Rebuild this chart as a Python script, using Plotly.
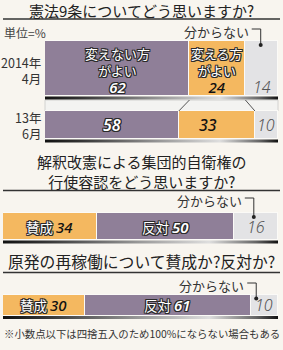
import plotly.graph_objects as go

# ---------------- data ----------------
q1_title = "憲法9条についてどう思いますか?"
q1_rows = ["2014年<br>4月", "13年<br>6月"]
q1_keep = [62, 58]      # 変えない方がよい
q1_change = [24, 33]    # 変える方がよい
q1_unknown = [14, 10]   # 分からない

q2_title = ["解釈改憲による集団的自衛権の", "行使容認をどう思いますか?"]
q2_for = [34]
q2_against = [50]
q2_unknown = [16]

q3_title = "原発の再稼働について賛成か?反対か?"
q3_for = [30]
q3_against = [61]
q3_unknown = [10]

unit_label = "単位=%"
unknown_label = "分からない"
footnote = "※小数点以下は四捨五入のため100%にならない場合もある"

# ---------------- style / layout ----------------
W, H = 283, 350
BG = "#f8f5ef"
PURPLE = "#8f7f98"
ORANGE = "#f4b860"
GRAY = "#e3e3e5"
DARK = "#222222"
JP = "Noto Sans CJK JP"
NUM = "Noto Sans"
OUTLINE = ", ".join(f"{dx}px {dy}px 0 #2a2a2a" for dx, dy in
                    [(1, 0), (-1, 0), (0, 1), (0, -1), (1, 1), (-1, -1), (1, -1), (-1, 1)])
NUM_DARK = "font-family:Noto Sans;font-style:italic;font-size:15px;color:#111;text-shadow:none;font-weight:500"
NUM_WHITE = "font-family:Noto Sans;font-style:italic;font-size:15px;font-weight:600"

# bar rows: (center y, height) in pixel units of the y axis
rows = {"b1": (68.5, 55), "b2": (125, 28), "b3": (226.5, 27), "b4": (305, 21)}
dom_q1 = [45 / W, 278 / W]
dom_q23 = [3 / W, 278 / W]

fig = go.Figure()

def add_bar(axis, yc, h, vals, colors):
    for v, c in zip(vals, colors):
        fig.add_trace(go.Bar(
            y=[yc], x=[v], width=[h], orientation="h", xaxis=axis, yaxis="y",
            marker=dict(color=c, line=dict(color="#fbfaf7", width=1.2)),
            showlegend=False, hoverinfo="skip"))

def add_shadow(axis, total, ybot):
    fig.add_trace(go.Scatter(
        x=[0, total, total, 0, 0], y=[ybot, ybot, ybot + 3, ybot + 3, ybot],
        xaxis=axis, yaxis="y", mode="lines", line=dict(width=0), fill="toself",
        fillgradient=dict(type="horizontal",
                          colorscale=[[0, "#111"], [0.15, "#333"], [0.5, "#9a9a9a"],
                                      [0.75, "#dedede"], [0.92, "#666"], [1, "#111"]]),
        showlegend=False, hoverinfo="skip"))

# Q1 bars
v1 = [q1_keep[0], q1_change[0], q1_unknown[0]]
v2 = [q1_keep[1], q1_change[1], q1_unknown[1]]
for axis, key, vals in (("x", "b1", v1), ("x2", "b2", v2)):
    yc, h = rows[key]
    add_bar(axis, yc, h, vals, [PURPLE, ORANGE, GRAY])
    add_shadow(axis, sum(vals), yc + h / 2 + 0.5)

# Q2 / Q3 bars
q2_vals = [q2_for[0], q2_against[0], q2_unknown[0]]
q3_vals = [q3_for[0], q3_against[0], q3_unknown[0]]
for axis, key, vals in (("x3", "b3", q2_vals), ("x4", "b4", q3_vals)):
    yc, h = rows[key]
    add_bar(axis, yc, h, vals, [ORANGE, PURPLE, GRAY])
    add_shadow(axis, sum(vals), yc + h / 2 + 0.5)

ann = []
shapes = []

def txt(x, y, text, size, color=DARK, xref="paper", xanchor="center", family=JP,
        style="normal", shadow="none", weight=400, xshift=0, align="center"):
    ann.append(dict(x=x, y=y, xref=xref, yref="y", text=text, showarrow=False,
                    xanchor=xanchor, yanchor="middle", xshift=xshift, align=align,
                    borderpad=0,
                    font=dict(size=size, color=color, family=family, style=style,
                              shadow=shadow, weight=weight)))

def hline(y, width=1.6):
    shapes.append(dict(type="line", xref="paper", yref="y", x0=3 / W, x1=280 / W,
                       y0=y, y1=y, line=dict(color="#333", width=width)))

# titles
txt(0.5, 10, q1_title, 15)
hline(19)
txt(0.5, 171, "<br>".join(q2_title), 15)
hline(190.5)
txt(0.5, 261.5, q3_title, 15.8)
hline(272.5)

txt(3 / W, 32, unit_label, 12, color="#444", xanchor="left")

# row labels for Q1
for key, lab in zip(["b1", "b2"], q1_rows):
    yc, h = rows[key]
    txt(42 / W, yc + 2 if key == "b1" else yc, lab, 12.5, color="#333",
        xanchor="right", align="right")

def mids(vals):
    out, acc = [], 0
    for v in vals:
        out.append(acc + v / 2)
        acc += v
    return out

# light band joining the two Q1 bars
band_top = rows["b1"][0] + rows["b1"][1] / 2 + 4
band_bot = rows["b2"][0] - rows["b2"][1] / 2
shapes.append(dict(type="rect", xref="x domain", yref="y", x0=0, x1=1,
                   y0=band_top, y1=band_bot, fillcolor="#f3f3f1",
                   line=dict(color="#d2d2d0", width=1), layer="below"))

# Q1 2014 labels
m1 = mids(v1)
yc1 = rows["b1"][0]
txt(m1[0], yc1 + 1.5, f"変えない方<br>がよい<br><span style='{NUM_WHITE}'>{v1[0]}</span>",
    13, color="white", xref="x", shadow=OUTLINE)
txt(m1[1], yc1 + 1.5, f"変える方<br>がよい<br><span style='{NUM_DARK}'>{v1[1]}</span>",
    13, color="white", xref="x", shadow=OUTLINE)
txt(m1[2], yc1 + 18, str(v1[2]), 16, color="#555", xref="x", family=NUM,
    style="italic", weight=300)

# Q1 2013 labels
m2 = mids(v2)
yc2 = rows["b2"][0]
txt(m2[0], yc2, str(v2[0]), 16, color="white", xref="x2", family=NUM,
    style="italic", shadow=OUTLINE, weight=600)
txt(m2[1] - 4, yc2, str(v2[1]), 16, color="#111", xref="x2", family=NUM,
    style="italic", weight=500)
txt(m2[2], yc2, str(v2[2]), 16, color="#555", xref="x2", family=NUM,
    style="italic", weight=300)

# connector lines between the two Q1 bars
for k in (1, 2):
    xa = sum(v1[:k])
    xb = sum(v2[:k]) / sum(v2) * sum(v1)
    shapes.append(dict(type="line", xref="x", yref="y", x0=xa, x1=xb,
                       y0=band_top, y1=band_bot, line=dict(color="#555", width=1)))

# Q2 / Q3 labels
def yes_no_labels(axis, vals, yc):
    m = mids(vals)
    txt(m[0], yc, f"賛成 <span style='{NUM_DARK}'>{vals[0]}</span>", 13.5,
        color="white", xref=axis, shadow=OUTLINE)
    txt(m[1], yc, f"反対 <span style='{NUM_WHITE}'>{vals[1]}</span>", 13.5,
        color="white", xref=axis, shadow=OUTLINE)
    txt(m[2], yc, str(vals[2]), 16, color="#555", xref=axis, family=NUM,
        style="italic", weight=300)

yes_no_labels("x3", q2_vals, rows["b3"][0])
yes_no_labels("x4", q3_vals, rows["b4"][0])

# "分からない" callouts
def callout(axis, key, vals, ytext, frac):
    xd = sum(vals[:2]) + vals[2] * frac
    yc, h = rows[key]
    ydot = yc - h / 2 + 4
    txt(xd, ytext, unknown_label, 13, color="#333", xref=axis, xanchor="right", xshift=-11)
    shapes.append(dict(type="line", xref=axis, yref="y", x0=xd, x1=xd, y0=ytext - 2,
                       y1=ydot, line=dict(color="#333", width=1)))
    shapes.append(dict(type="line", xref=axis, yref="y", xsizemode="pixel", xanchor=xd,
                       x0=-9, x1=0, y0=ytext - 2, y1=ytext - 2,
                       line=dict(color="#333", width=1)))
    shapes.append(dict(type="circle", xref=axis, yref="y", xsizemode="pixel",
                       ysizemode="pixel", xanchor=xd, yanchor=ydot,
                       x0=-2, x1=2, y0=-2, y1=2, fillcolor="#222",
                       line=dict(width=0)))

callout("x", "b1", v1, 31, 0.47)
callout("x3", "b3", q2_vals, 200, 0.45)
callout("x4", "b4", q3_vals, 285, 0.2)

txt(141.5 / W, 333, footnote, 10.4, color="#333")

axis_common = dict(visible=False, fixedrange=True, anchor="y")
fig.update_layout(
    width=W, height=H, margin=dict(l=0, r=0, t=0, b=0),
    paper_bgcolor=BG, plot_bgcolor="rgba(0,0,0,0)",
    barmode="stack", bargap=0,
    xaxis=dict(domain=dom_q1, range=[0, sum(v1)], **axis_common),
    xaxis2=dict(domain=dom_q1, range=[0, sum(v2)], **axis_common),
    xaxis3=dict(domain=dom_q23, range=[0, sum(q2_vals)], **axis_common),
    xaxis4=dict(domain=dom_q23, range=[0, sum(q3_vals)], **axis_common),
    yaxis=dict(range=[H, 0], domain=[0, 1], visible=False, fixedrange=True, anchor="x"),
    annotations=ann, shapes=shapes,
)

fig.write_html("out.html", config={"displayModeBar": False})
